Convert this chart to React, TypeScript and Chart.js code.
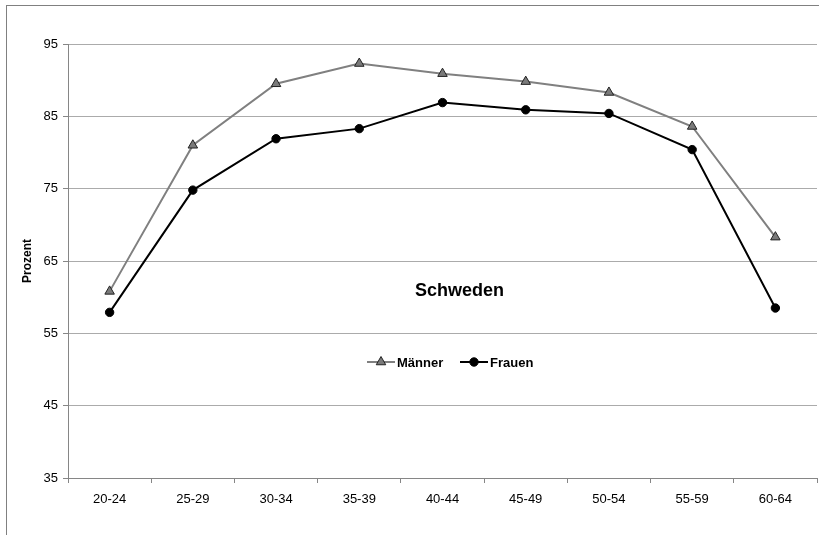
import React, { useEffect, useRef } from "react";
import { Chart, registerables } from "chart.js";
import { drawPoint } from "chart.js/helpers";

Chart.register(...registerables);

// Age groups on the x axis
const ageGroups = ["20-24", "25-29", "30-34", "35-39", "40-44", "45-49", "50-54", "55-59", "60-64"];

// Employment rate in percent, by age group
const maenner = [60.8, 81.0, 89.5, 92.3, 90.9, 89.8, 88.3, 83.6, 68.3];
const frauen = [57.9, 74.8, 81.9, 83.3, 86.9, 85.9, 85.4, 80.4, 58.5];

const seriesLabels = ["Männer", "Frauen"];
const countryTitle = "Schweden";
const yAxisTitle = "Prozent";

const FONT = "'Liberation Sans', Arial, Helvetica, sans-serif";
const AXIS_GRAY = "#868686";
const GRID_GRAY = "#ababab";

// Outer frame plus the in-plot caption and legend
const overlayPlugin = {
  id: "overlay",
  beforeDraw(chart: any) {
    const ctx = chart.ctx;
    ctx.save();
    ctx.strokeStyle = "#808080";
    ctx.lineWidth = 1;
    ctx.strokeRect(6.5, 5.5, 1000, 1000);
    ctx.restore();
  },
  afterDraw(chart: any) {
    const ctx = chart.ctx;
    const area = chart.chartArea;
    ctx.save();
    // caption
    ctx.fillStyle = "#000";
    ctx.font = `bold 18px ${FONT}`;
    ctx.textAlign = "center";
    ctx.textBaseline = "middle";
    ctx.fillText(countryTitle, area.left + 391.5, 291);

    // legend
    const legendY = 362;
    const starts = [area.left + 299, area.left + 392];
    ctx.font = `bold 13px ${FONT}`;
    ctx.textAlign = "left";
    chart.data.datasets.forEach((ds: any, i: number) => {
      const x0 = starts[i];
      ctx.strokeStyle = ds.borderColor;
      ctx.lineWidth = 2;
      ctx.beginPath();
      ctx.moveTo(x0, legendY);
      ctx.lineTo(x0 + 28, legendY);
      ctx.stroke();
      ctx.fillStyle = ds.pointBackgroundColor;
      ctx.strokeStyle = ds.pointBorderColor;
      ctx.lineWidth = 1;
      drawPoint(ctx, { pointStyle: ds.pointStyle, radius: ds.pointRadius, borderWidth: 1 }, x0 + 14, legendY);
      ctx.fillStyle = "#000";
      ctx.fillText(ds.label, x0 + 30, legendY + 1);
    });
    ctx.restore();
  },
};

export default function App() {
  const canvasRef = useRef<HTMLCanvasElement | null>(null);

  useEffect(() => {
    document.body.style.margin = "0";
    const canvas = canvasRef.current;
    if (!canvas) return;
    const chart = new Chart(canvas, {
      type: "line",
      data: {
        labels: ageGroups,
        datasets: [
          {
            label: seriesLabels[0],
            data: maenner,
            borderColor: "#808080",
            borderWidth: 2,
            pointStyle: "triangle",
            pointRadius: 5.5,
            pointHoverRadius: 5.5,
            pointBackgroundColor: "#7a7a7a",
            pointBorderColor: "#222",
            pointBorderWidth: 1,
            tension: 0,
          } as any,
          {
            label: seriesLabels[1],
            data: frauen,
            borderColor: "#000",
            borderWidth: 2,
            pointStyle: "circle",
            pointRadius: 4.2,
            pointHoverRadius: 4.2,
            pointBackgroundColor: "#000",
            pointBorderColor: "#000",
            pointBorderWidth: 1,
            tension: 0,
          } as any,
        ],
      },
      options: {
        responsive: false,
        animation: false,
        devicePixelRatio: 1,
        layout: { autoPadding: false, padding: { left: 0, top: 44, right: 2, bottom: 0 } },
        plugins: {
          legend: { display: false },
          tooltip: { enabled: false },
        },
        scales: {
          x: {
            offset: true,
            grid: {
              offset: true,
              drawOnChartArea: false,
              drawTicks: true,
              tickLength: 5,
              color: AXIS_GRAY,
            },
            border: { color: AXIS_GRAY, width: 1 },
            ticks: {
              color: "#000",
              font: { family: FONT, size: 13 },
              padding: 9,
              maxRotation: 0,
            },
            afterFit(scale: any) {
              scale.height = 57;
              scale.paddingLeft = 0;
              scale.paddingRight = 0;
            },
          },
          y: {
            min: 35,
            max: 95,
            ticks: {
              stepSize: 10,
              color: "#000",
              font: { family: FONT, size: 13 },
              padding: 5,
            },
            grid: {
              color: GRID_GRAY,
              tickColor: AXIS_GRAY,
              tickLength: 5,
            },
            border: { color: AXIS_GRAY, width: 1 },
            title: {
              display: true,
              text: yAxisTitle,
              color: "#000",
              font: { family: FONT, size: 12, weight: "bold" },
              padding: { top: 20, bottom: 0 },
            },
            afterFit(scale: any) {
              scale.width = 68;
              scale.paddingTop = 0;
              scale.paddingBottom = 0;
            },
          },
        },
      },
      plugins: [overlayPlugin],
    });
    return () => chart.destroy();
  }, []);

  return (
    <div style={{ width: 819, height: 535, background: "#fff" }}>
      <canvas ref={canvasRef} width={819} height={535} style={{ display: "block" }} />
    </div>
  );
}
